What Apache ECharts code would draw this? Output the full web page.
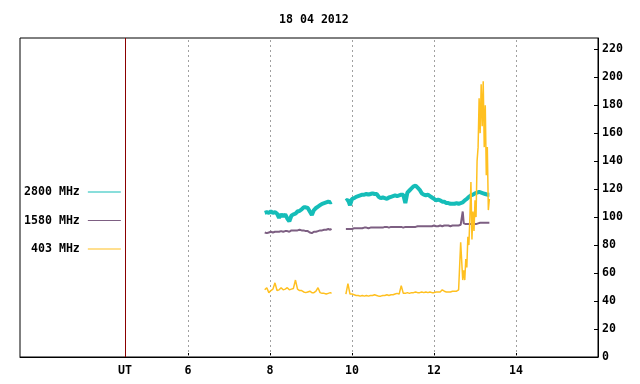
<!DOCTYPE html>
<html>
<head>
<meta charset="utf-8">
<script src="https://cdn.jsdelivr.net/npm/echarts@6/dist/echarts.min.js"></script>
<style>
html, body { margin: 0; padding: 0; background: #fff; }
#chart { width: 640px; height: 384px; }
</style>
</head>
<body>
<div id="chart"></div>
<script>
// radio flux, 18 04 2012
const title = '18 04 2012';
const seriesNames = ['2800 MHz', '1580 MHz', ' 403 MHz'];
const xTicks = [6, 8, 10, 12, 14];
const utHour = 4.46;
const yTicks = [0, 20, 40, 60, 80, 100, 120, 140, 160, 180, 200, 220];

// UT hours (9.67 = gap in the record)
const hours = [
  7.87, 7.92, 7.97, 8.02, 8.07, 8.12, 8.17, 8.22, 8.27, 8.32,
  8.37, 8.42, 8.47, 8.52, 8.57, 8.62, 8.67, 8.72, 8.77, 8.82,
  8.87, 8.92, 8.97, 9.02, 9.07, 9.12, 9.17, 9.22, 9.27, 9.32,
  9.37, 9.42, 9.47, 9.50,
  9.67,
  9.85, 9.90, 9.95, 10.00, 10.05, 10.10, 10.15, 10.20, 10.25, 10.30,
  10.35, 10.40, 10.45, 10.50, 10.55, 10.60, 10.65, 10.70, 10.75, 10.80,
  10.85, 10.90, 10.95, 11.00, 11.05, 11.10, 11.15, 11.20, 11.25, 11.30,
  11.35, 11.40, 11.45, 11.50, 11.55, 11.60, 11.65, 11.70, 11.75, 11.80,
  11.85, 11.90, 11.95, 12.00, 12.05, 12.10, 12.15, 12.20, 12.25, 12.30,
  12.35, 12.40, 12.45, 12.50, 12.55, 12.60, 12.65, 12.70,
  12.725, 12.75, 12.775, 12.80, 12.825, 12.85, 12.875, 12.90, 12.925, 12.95,
  12.975, 13.00, 13.025, 13.05, 13.075, 13.10, 13.125, 13.15, 13.175, 13.20,
  13.225, 13.25, 13.275, 13.30, 13.325, 13.35
];

const f2800 = [
  103, 103.5, 103, 104, 103, 103.5, 102.5, 99.5, 102, 100.5,
  102, 99, 97, 101, 102, 102.5, 104, 104.5, 105.5, 107,
  107, 106.5, 104, 101.5, 105, 106.5, 107.5, 108.5, 109.5, 110,
  110.5, 111, 110.5, 111,
  null,
  111.5, 112.5, 108.5, 113, 113.5, 114.5, 115, 115.5, 116, 116,
  116.5, 116, 116.5, 117, 116.5, 116.5, 114.5, 113.5, 114, 113.5,
  113, 114, 114.5, 115, 115.5, 115, 115.5, 116, 116, 110,
  117.5, 119, 120.5, 122, 122.5, 121, 119.5, 117, 116, 115.5,
  116, 115, 114, 113, 112, 112.5, 112, 111, 111, 110,
  110, 109.5, 109.5, 109.5, 110, 109.5, 110, 110.5,
  111, 112, 112.5, 113, 113.5, 114.5, 115, 115.5, 115.5, 116,
  116.5, 117, 117, 117.5, 117, 118, 117.5, 117.5, 117.5, 117,
  117, 116.5, 116.5, 116, 116, 116
];

const f1580 = [
  89, 88.5, 89, 89.5, 89, 89.5, 89.5, 89.5, 90, 89.5,
  90, 90, 89.5, 90.5, 90.5, 90.5, 90.5, 91, 90.5, 90.5,
  90, 90, 89, 88.5, 89.5, 89.5, 90, 90.5, 90.5, 91,
  91, 91.5, 91, 91.5,
  null,
  91.5, 91.5, 91.5, 91.5, 92, 92, 92, 92, 92, 92.5,
  92.5, 92, 92.5, 92.5, 92.5, 92.5, 92.5, 92.5, 92.5, 93,
  93, 92.5, 93, 93, 93, 93, 93, 93, 92.5, 93,
  93, 93, 93, 93, 93, 93.5, 93.5, 93.5, 93.5, 93.5,
  93.5, 93.5, 93.5, 94, 93.5, 93.5, 94, 93.5, 94, 94,
  94, 93.5, 94, 94, 94, 94, 94.5, 104,
  95.5, 95.5, 95, 95, 95, 95, 95, 95, 95, 95,
  95, 95, 95, 95.5, 95.5, 95.5, 96, 96, 96, 96,
  96, 96, 96, 96, 96, 96
];

const f403 = [
  48, 49.5, 46, 47.5, 48.5, 53, 47.5, 48, 49.5, 48,
  48.5, 49.5, 48, 48.5, 49, 55, 48.5, 47.5, 47.5, 46.5,
  46, 46.5, 47, 46, 46, 47, 49.5, 46, 45.5, 45.5,
  45, 45.5, 46, 45.5,
  null,
  45, 52.5, 45, 45, 44.5, 44, 44, 43.5, 44, 43.5,
  44, 43.5, 44, 44, 44.5, 44, 43.5, 43.5, 44, 44,
  44.5, 44, 44.5, 44.5, 45, 45.5, 45, 51, 45.5, 45.5,
  46, 45.5, 46, 46, 46.5, 46, 46, 46.5, 46, 46.5,
  46, 46.5, 46, 46, 46.5, 46.5, 46.5, 48, 47, 46.5,
  46.5, 46.5, 47, 47, 47, 48, 82, 55,
  62, 55, 70, 64, 86, 80, 100, 125, 84, 104,
  90, 112, 100, 140, 150, 185, 160, 195, 165, 197,
  150, 180, 130, 150, 105, 113
];

const colors = ['#15bdb8', '#7d5f82', '#ffc020'];
const widths = [4, 2, 1.5];
const font = 'DejaVu Sans Mono';

function pairs(vals) {
  return hours.map((h, i) => [h, vals[i] == null ? '-' : vals[i]]);
}

let chart = echarts.init(document.getElementById('chart'));

let series = [f2800, f1580, f403].map((vals, i) => ({
  name: seriesNames[i],
  type: 'line',
  showSymbol: false,
  symbol: 'none',
  connectNulls: false,
  animation: false,
  lineStyle: { color: colors[i], width: widths[i] },
  itemStyle: { color: colors[i] },
  data: pairs(vals)
}));

// grid lines + UT line
series[0].markLine = {
  silent: true,
  z: 1,
  symbol: 'none',
  animation: false,
  label: { show: false },
  lineStyle: { color: '#a0a0a0', type: [2, 3], width: 1 },
  data: xTicks.map(t => ({ xAxis: t })).concat([
    { xAxis: utHour, lineStyle: { color: '#8b0000', type: 'solid', width: 1 } }
  ])
};

chart.setOption({
  animation: false,
  backgroundColor: '#fff',
  title: {
    text: title,
    left: 274,
    top: 9,
    textStyle: { fontFamily: font, fontSize: 11.6, fontWeight: 'bold', color: '#000' }
  },
  legend: {
    orient: 'vertical',
    left: 19,
    top: 181,
    align: 'right',
    icon: 'rect',
    itemWidth: 33,
    itemHeight: 1,
    itemGap: 16.5,
    selectedMode: false,
    textStyle: { fontFamily: font, fontSize: 11.6, fontWeight: 'bold', color: '#000', padding: [0, 3, 0, 0] },
    data: seriesNames
  },
  grid: {
    left: 20, right: 42, top: 38, bottom: 27,
    show: true, borderColor: '#000', borderWidth: 1
  },
  xAxis: {
    type: 'value',
    min: 1.9,
    max: 16,
    axisLine: { lineStyle: { color: '#000' } },
    axisTick: { inside: true, length: 4, customValues: xTicks, lineStyle: { color: '#000' } },
    axisLabel: {
      customValues: [utHour].concat(xTicks),
      margin: 8,
      fontFamily: font, fontSize: 11.6, fontWeight: 'bold', color: '#000',
      formatter: v => (Math.abs(v - utHour) < 0.01 ? 'UT' : String(v))
    },
    splitLine: { show: false }
  },
  yAxis: {
    type: 'value',
    position: 'right',
    min: 0,
    max: 228,
    axisLine: { show: true, lineStyle: { color: '#000' } },
    axisTick: { show: true, inside: true, length: 4, customValues: yTicks, lineStyle: { color: '#000' } },
    axisLabel: {
      customValues: yTicks,
      margin: 4,
      fontFamily: font, fontSize: 11.6, fontWeight: 'bold', color: '#000'
    },
    splitLine: { show: false }
  },
  series: series
});
</script>
</body>
</html>
